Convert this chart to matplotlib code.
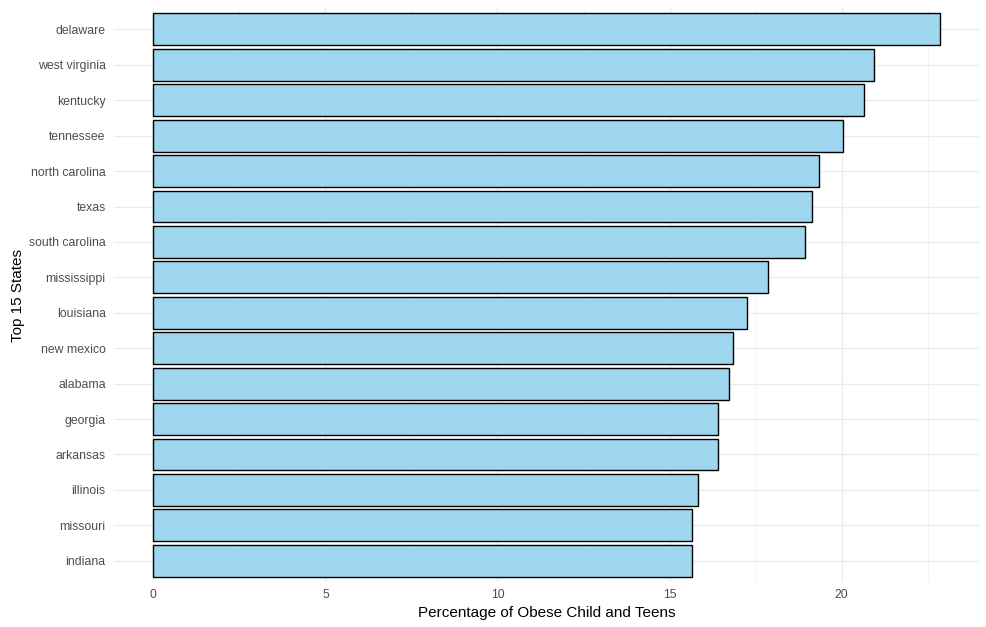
import numpy as np
import matplotlib
matplotlib.use('Agg')
import matplotlib.pyplot as plt
from matplotlib.ticker import MultipleLocator

# Datos: porcentaje de obesidad infantil/adolescente, top 15 estados
states = ['delaware', 'west virginia', 'kentucky', 'tennessee', 'north carolina',
          'texas', 'south carolina', 'mississippi', 'louisiana', 'new mexico',
          'alabama', 'georgia', 'arkansas', 'illinois', 'missouri', 'indiana']
pct = [22.85, 20.93, 20.64, 20.03, 19.33, 19.13, 18.92, 17.85, 17.24, 16.83,
       16.74, 16.42, 16.42, 15.84, 15.64, 15.64]

plt.rcParams['font.family'] = ['Liberation Sans', 'DejaVu Sans']

fig = plt.figure(figsize=(9.86, 6.27), dpi=100)
ax = fig.add_axes([0.1156, 0.0718, 0.8774, 0.9152])

ypos = np.arange(len(states))[::-1]
ax.barh(ypos, pct, height=0.9, color='#9DD6EE', edgecolor='black', linewidth=1.0, zorder=3)

ax.set_yticks(ypos)
ax.set_yticklabels(states)
ax.set_ylim(-0.6, len(states) - 1 + 0.6)
xmax = max(pct)
ax.set_xlim(-0.05 * xmax, xmax * 1.05)
ax.xaxis.set_major_locator(MultipleLocator(5))
ax.xaxis.set_minor_locator(MultipleLocator(2.5))

ax.grid(which='major', color='#EBEBEB', linewidth=0.9, zorder=0)
ax.grid(which='minor', axis='x', color='#F2F2F2', linewidth=0.5, zorder=0)
for s in ax.spines.values():
    s.set_visible(False)
ax.tick_params(which='both', length=0, colors='#4D4D4D', labelsize=8.8)
ax.tick_params(axis='y', pad=6)
ax.tick_params(axis='x', pad=5)

ax.set_xlabel('Percentage of Obese Child and Teens', fontsize=11, labelpad=4)
ax.set_ylabel('Top 15 States', fontsize=11, labelpad=3)

fig.savefig('out.png', dpi=100)
